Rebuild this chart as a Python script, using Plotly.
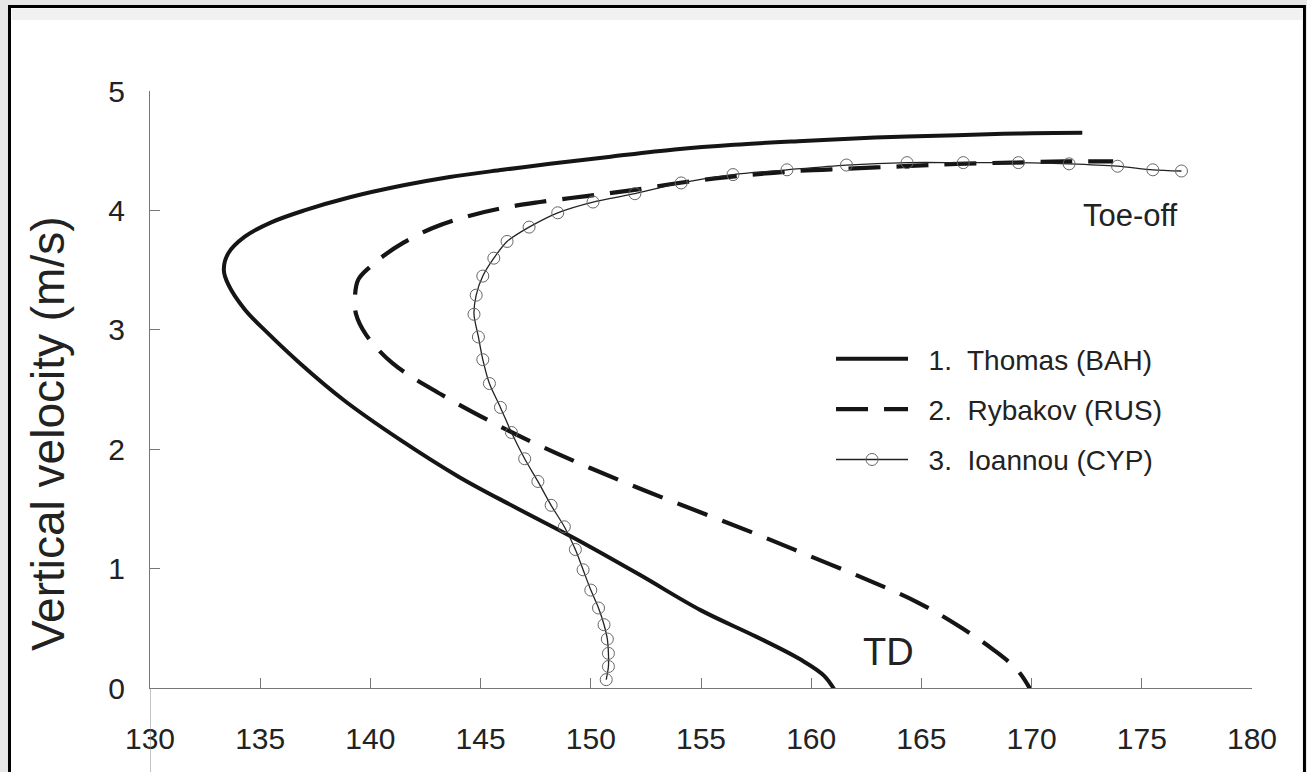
import plotly.graph_objects as go

# ---- data (horizontal axis value, vertical velocity in m/s) ----
thomas_x = [161.2, 160.6, 159.5, 157.5, 155.0, 152.2, 149.3, 146.5, 144.0, 141.34, 138.8,
            136.8, 135.3, 134.3, 133.55, 133.35, 133.55, 134.3, 135.5, 137.0, 139.07, 141.5,
            143.6, 146.0, 148.15, 150.9, 153.8, 156.5, 159.4, 162.9, 166.6, 169.5, 172.3]
thomas_y = [-0.06, 0.10, 0.24, 0.43, 0.65, 0.95, 1.25, 1.52, 1.77, 2.08, 2.41,
            2.72, 2.98, 3.17, 3.38, 3.50, 3.64, 3.78, 3.90, 4.00, 4.11, 4.21,
            4.28, 4.34, 4.39, 4.45, 4.51, 4.55, 4.58, 4.61, 4.63, 4.645, 4.65]

rybakov_x = [170.2, 169.4, 168.2, 166.6, 164.8, 162.5, 160.0, 157.5, 155.0, 152.5, 150.0,
             147.8, 145.9, 143.2, 141.0, 139.8, 139.35, 139.3, 139.45, 140.0, 140.6, 141.5,
             142.8, 144.4, 146.0, 147.7, 149.8, 151.9, 154.4, 156.8, 159.3, 161.7, 164.2,
             166.6, 169.1, 171.5, 173.7]
rybakov_y = [-0.10, 0.14, 0.33, 0.53, 0.72, 0.91, 1.10, 1.29, 1.47, 1.65, 1.84,
             2.02, 2.19, 2.46, 2.72, 2.96, 3.13, 3.28, 3.42, 3.53, 3.62, 3.73,
             3.85, 3.95, 4.02, 4.07, 4.12, 4.17, 4.24, 4.29, 4.33, 4.35, 4.37,
             4.39, 4.40, 4.41, 4.41]

ioannou_x = [150.7, 150.8, 150.8, 150.75, 150.6, 150.35, 150.0, 149.65, 149.3, 148.8, 148.2,
             147.6, 147.0, 146.4, 145.9, 145.4, 145.1, 144.9, 144.7, 144.8, 145.1, 145.6,
             146.2, 147.2, 148.5, 150.1, 152.0, 154.1, 156.45, 158.9, 161.6, 164.35, 166.9,
             169.4, 171.7, 173.9, 175.5, 176.8]
ioannou_y = [0.07, 0.18, 0.29, 0.41, 0.53, 0.67, 0.82, 0.99, 1.16, 1.35, 1.53,
             1.73, 1.92, 2.14, 2.35, 2.55, 2.75, 2.94, 3.13, 3.29, 3.45, 3.60,
             3.74, 3.86, 3.98, 4.07, 4.14, 4.23, 4.30, 4.34, 4.38, 4.40, 4.40,
             4.40, 4.39, 4.37, 4.34, 4.33]

names = ["\u00a0\u00a01.\u00a0 Thomas (BAH)",
         "\u00a0\u00a02.\u00a0 Rybakov (RUS)",
         "\u00a0\u00a03.\u00a0 Ioannou (CYP)"]
x_ticks = [130, 135, 140, 145, 150, 155, 160, 165, 170, 175, 180]
y_ticks = [0, 1, 2, 3, 4, 5]

FONT = "Liberation Sans, Arial, Helvetica, sans-serif"
INK = "#151515"

fig = go.Figure()
fig.add_trace(go.Scatter(x=thomas_x, y=thomas_y, mode="lines", name=names[0],
                         legendgroup="a",
                         line=dict(color=INK, width=4, shape="spline", smoothing=1.0)))
fig.add_trace(go.Scatter(x=rybakov_x, y=rybakov_y, mode="lines", name=names[1],
                         legendgroup="b",
                         line=dict(color=INK, width=4.2, dash="32px,16px", shape="spline",
                                   smoothing=1.0)))
fig.add_trace(go.Scatter(x=ioannou_x, y=ioannou_y, mode="lines+markers", name=names[2],
                         legendgroup="c",
                         line=dict(color="#222222", width=1.3, shape="spline", smoothing=0.8),
                         marker=dict(symbol="circle-open", size=12,
                                     color="#666666", line=dict(color="#666666", width=1))))

fig.add_annotation(x=174.5, y=3.96, text="Toe-off", showarrow=False,
                   font=dict(family=FONT, size=31, color="#222"))
fig.add_annotation(x=163.5, y=0.30, text="TD", showarrow=False,
                   font=dict(family=FONT, size=38, color="#222"))
# y-axis title, placed where the scanned figure has it
fig.add_annotation(xref="paper", yref="paper", x=-0.0926, y=0.427,
                   xanchor="center", yanchor="middle",
                   text="Vertical velocity (m/s)", textangle=-90, showarrow=False,
                   font=dict(family=FONT, size=46, color="#222"))

# frame of the scanned figure
fig.add_shape(type="rect", xref="paper", yref="paper",
              x0=-0.1275, x1=1.0476, y0=-0.16, y1=1.1415,
              line=dict(color="black", width=3), fillcolor="white", layer="below")
fig.add_shape(type="rect", xref="paper", yref="paper",
              x0=-0.1255, x1=1.0456, y0=1.119, y1=1.138,
              line=dict(width=0), fillcolor="#f1f1f1", layer="below")
# y-axis line continuing below the x axis
fig.add_shape(type="line", xref="x", yref="paper", x0=130, x1=130, y0=0, y1=-0.16,
              line=dict(color="#888", width=1))

fig.update_layout(
    width=1307, height=772,
    margin=dict(l=150, r=55, t=91, b=84, autoexpand=False),
    paper_bgcolor="#e7e7e7",
    plot_bgcolor="rgba(0,0,0,0)",
    font=dict(family=FONT, color="#222"),
    showlegend=True,
    legend=dict(x=0.618, y=0.593, xanchor="left", yanchor="top",
                bgcolor="rgba(0,0,0,0)", font=dict(family=FONT, size=28, color="#222"),
                itemwidth=72, tracegroupgap=11, traceorder="grouped"),
    xaxis=dict(range=[130, 180], tickvals=x_ticks, ticktext=[str(v) for v in x_ticks],
               showgrid=False, zeroline=False, showline=True, linecolor="#777", linewidth=1,
               ticks="inside", ticklen=10, tickcolor="#777", automargin=False,
               tickfont=dict(family=FONT, size=30, color="#222"), ticklabelstandoff=24),
    yaxis=dict(range=[0, 5], tickvals=y_ticks, ticktext=[str(v) for v in y_ticks],
               showgrid=False, zeroline=False, showline=True, linecolor="#777", linewidth=1,
               ticks="inside", ticklen=10, tickcolor="#777", automargin=False,
               tickfont=dict(family=FONT, size=30, color="#222"), ticklabelstandoff=18),
)

fig.write_html("out.html",
               config={"displayModeBar": False},
               post_script="document.body.style.margin='0px';"
                           "document.body.style.overflow='hidden';")
